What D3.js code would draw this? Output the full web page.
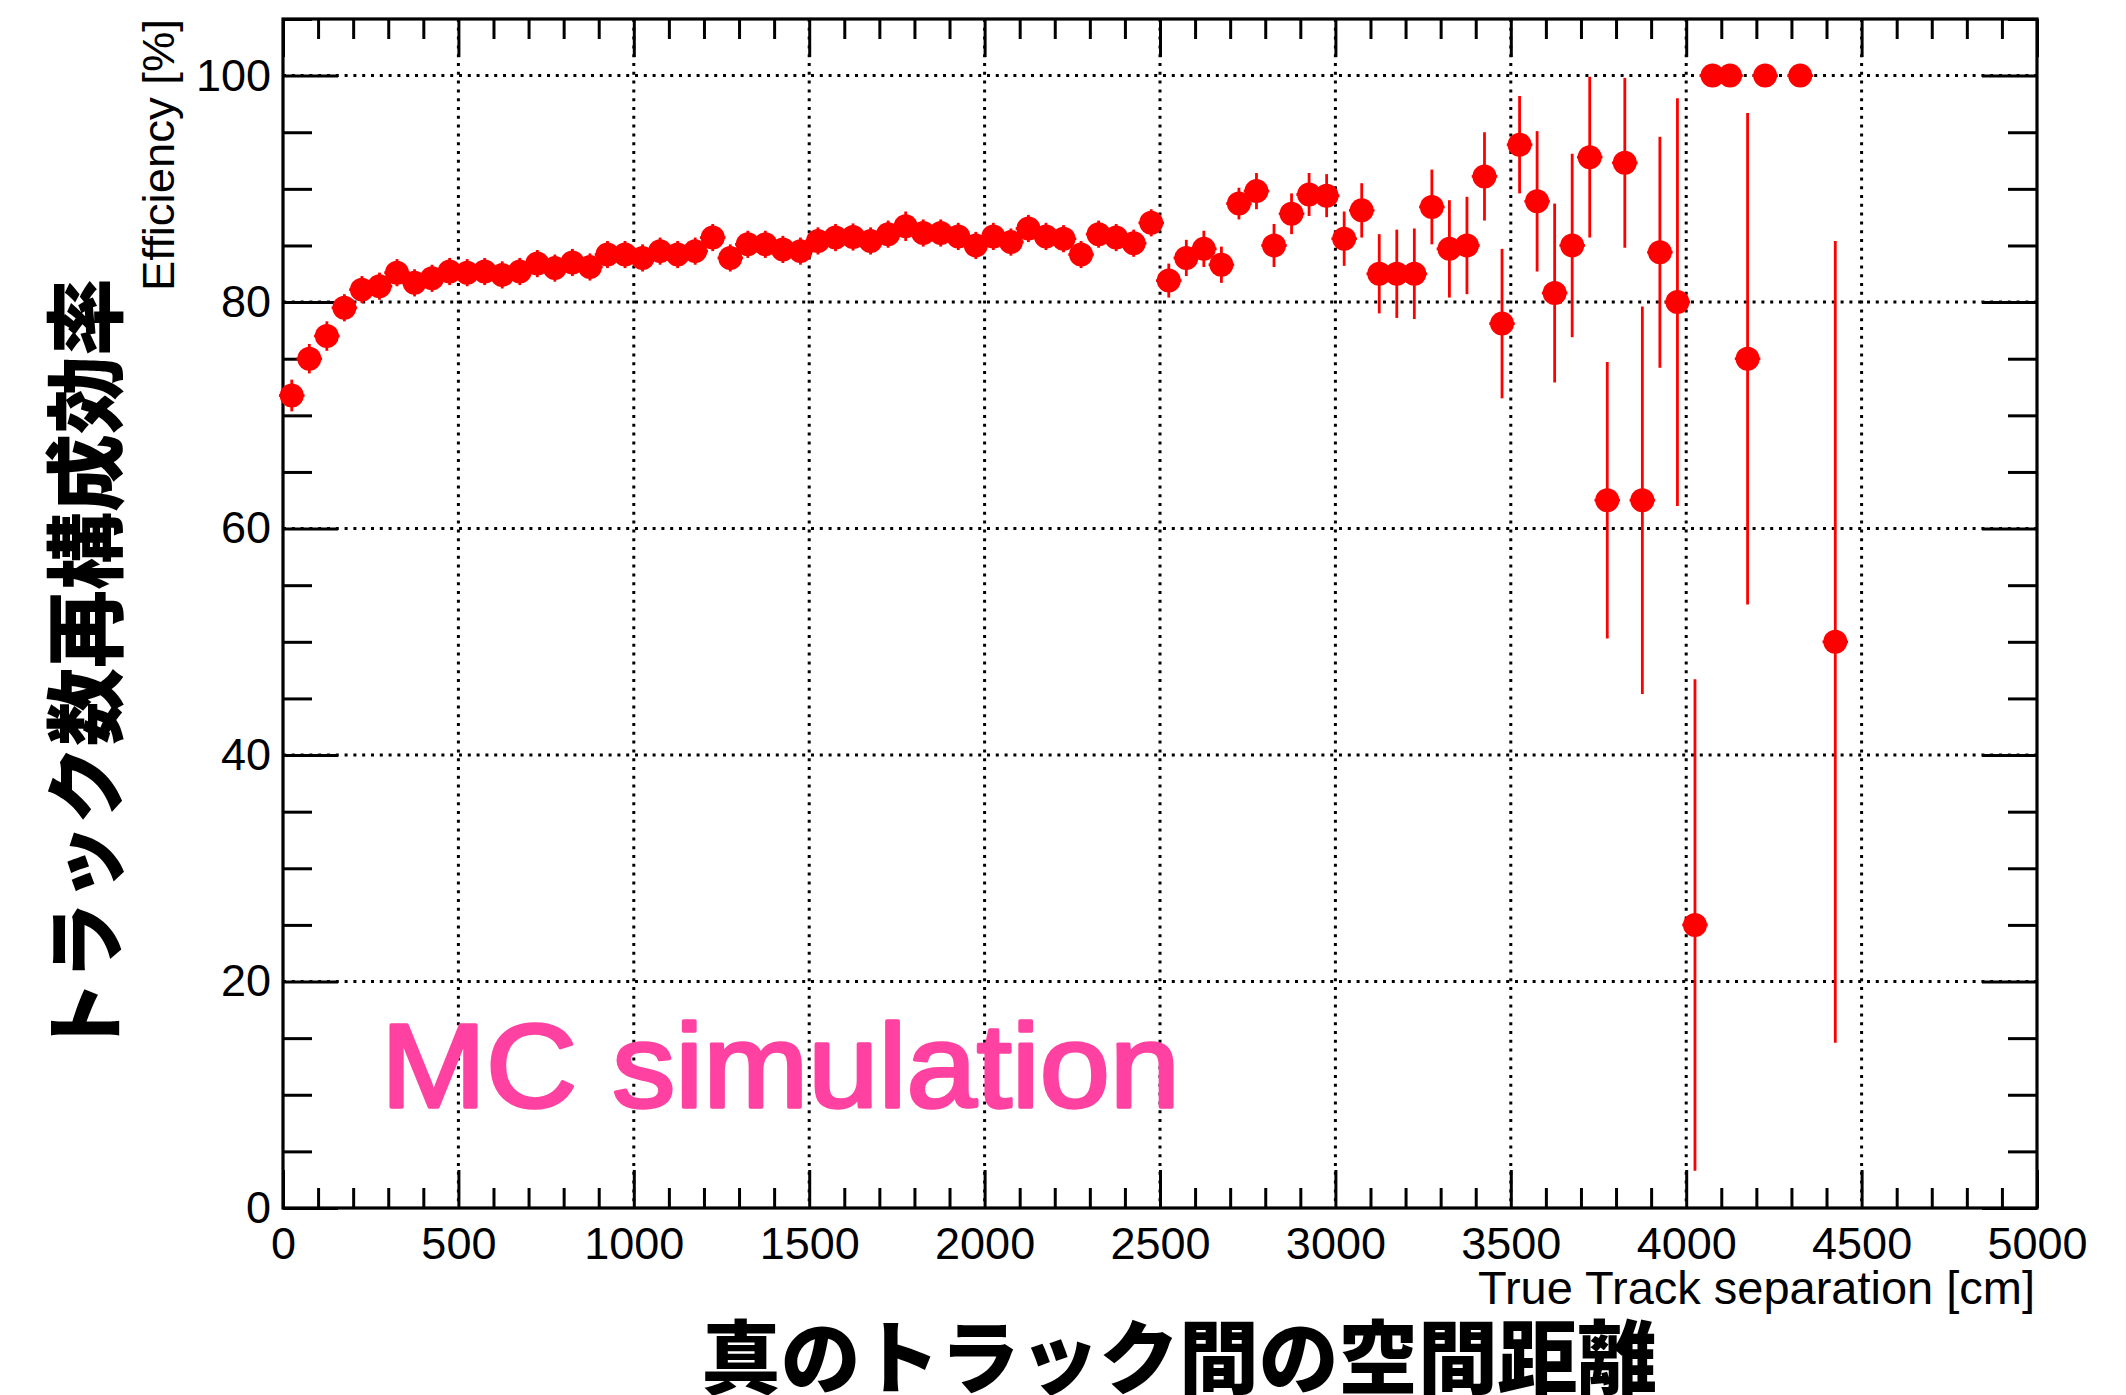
<!DOCTYPE html>
<html>
<head>
<meta charset="utf-8">
<script src="https://cdn.jsdelivr.net/npm/d3@7"></script>
<style>
  html, body { margin: 0; padding: 0; background: #fff; }
  svg { display: block; }
</style>
</head>
<body>
<svg id="chart" width="2126" height="1395"></svg>
<script>
// Bin centres of the true track separation histogram [cm]
const separation = [
  25, 75, 125, 175, 225, 275, 325, 375, 425, 475,
  525, 575, 625, 675, 725, 775, 825, 875, 925, 975,
  1025, 1075, 1125, 1175, 1225, 1275, 1325, 1375, 1425, 1475,
  1525, 1575, 1625, 1675, 1725, 1775, 1825, 1875, 1925, 1975,
  2025, 2075, 2125, 2175, 2225, 2275, 2325, 2375, 2425, 2475,
  2525, 2575, 2625, 2675, 2725, 2775, 2825, 2875, 2925, 2975,
  3025, 3075, 3125, 3175, 3225, 3275, 3325, 3375, 3425, 3475,
  3525, 3575, 3625, 3675, 3725, 3775, 3825, 3875, 3925, 3975,
  4025, 4075, 4125, 4175, 4225, 4325, 4425
];

// Reconstruction efficiency in each bin [%]
const efficiency = [
  71.75, 75.0, 77.0, 79.5, 81.1, 81.4, 82.6, 81.7, 82.1, 82.7,
  82.6, 82.7, 82.4, 82.7, 83.4, 83.0, 83.5, 83.1, 84.2, 84.2,
  83.9, 84.5, 84.2, 84.5, 85.7, 83.9, 85.1, 85.1, 84.65, 84.5,
  85.4, 85.7, 85.75, 85.4, 86.0, 86.7, 86.1, 86.1, 85.8, 85.0,
  85.8, 85.3, 86.5, 85.8, 85.6, 84.2, 86.0, 85.7, 85.2, 87.0,
  81.9, 83.9, 84.7, 83.3, 88.7, 89.8, 85.0, 87.8, 89.5, 89.4,
  85.6, 88.1, 82.5, 82.5, 82.5, 88.4, 84.7, 85.0, 91.1, 78.1,
  93.9, 88.9, 80.8, 85.0, 92.8, 62.5, 92.3, 62.5, 84.4, 80.0,
  25.0, 100, 100, 75.0, 100, 100, 50.0
];

// Statistical uncertainty on the efficiency [%]
const efficiencyErr = [
  1.4, 1.3, 1.3, 1.2, 1.2, 1.2, 1.2, 1.2, 1.2, 1.2,
  1.2, 1.2, 1.2, 1.2, 1.2, 1.2, 1.2, 1.2, 1.2, 1.2,
  1.2, 1.2, 1.2, 1.2, 1.2, 1.2, 1.2, 1.2, 1.2, 1.2,
  1.2, 1.2, 1.2, 1.2, 1.2, 1.3, 1.2, 1.2, 1.2, 1.2,
  1.2, 1.2, 1.2, 1.2, 1.2, 1.2, 1.2, 1.2, 1.2, 1.2,
  1.5, 1.6, 1.6, 1.6, 1.4, 1.6, 1.9, 1.8, 1.9, 1.9,
  2.4, 2.4, 3.5, 3.9, 4.0, 3.3, 4.3, 4.3, 3.9, 6.6,
  4.3, 6.2, 7.9, 8.1, 7.1, 12.2, 7.5, 17.1, 10.2, 18.0,
  21.7, 0, 0, 21.7, 0, 0, 35.4
];

const binHalfWidth = 25;

// Axis ticks
const xMajorTicks = [0, 500, 1000, 1500, 2000, 2500, 3000, 3500, 4000, 4500, 5000];
const yMajorTicks = [0, 20, 40, 60, 80, 100];

const xTitle = "True Track separation [cm]";
const yTitle = "Efficiency [%]";
const yTitleJa = "トラック数再構成効率";
const xTitleJa = "真のトラック間の空間距離";
const stamp = "MC simulation";

const frame = { left: 283, right: 2037, top: 19, bottom: 1208 };

const svg = d3.select("#chart");
svg.append("rect").attr("width", 2126).attr("height", 1395).attr("fill", "#fff");

const x = d3.scaleLinear().domain([0, 5000]).range([frame.left, frame.right]);
const y = d3.scaleLinear().domain([0, 105]).range([frame.bottom, frame.top]);

const latin = "'Liberation Sans', Arial, Helvetica, sans-serif";
const cjk = "'Noto Sans CJK JP', 'Noto Sans CJK SC', sans-serif";

// Dotted grid at the major ticks
const grid = svg.append("g")
  .attr("stroke", "#000")
  .attr("stroke-width", 3)
  .attr("stroke-dasharray", "3 5.8");
grid.selectAll("line.gx")
  .data(xMajorTicks.filter(d => d > 0 && d < 5000))
  .join("line")
  .attr("x1", d => x(d)).attr("x2", d => x(d))
  .attr("y1", frame.top).attr("y2", frame.bottom);
grid.selectAll("line.gy")
  .data(yMajorTicks.filter(d => d > 0))
  .join("line")
  .attr("x1", frame.left).attr("x2", frame.right)
  .attr("y1", d => y(d)).attr("y2", d => y(d));

// Axes with inward ticks on all four sides
const xMinor = d3.range(0, 5001, 100).filter(d => d % 500 !== 0);
const yMinor = d3.range(0, 106, 5).filter(d => d % 20 !== 0);

function styleAxis(g) {
  g.select(".domain").remove();
  g.selectAll(".tick line").attr("stroke", "#000").attr("stroke-width", 3);
  g.selectAll(".tick text")
    .attr("fill", "#000")
    .attr("font-family", latin)
    .attr("font-size", 45);
}

svg.append("g").attr("transform", `translate(0,${frame.bottom})`)
  .call(d3.axisBottom(x).tickValues(xMajorTicks).tickSizeInner(-38).tickSizeOuter(0)
    .tickPadding(19).tickFormat(d3.format("d")))
  .call(styleAxis);
svg.append("g").attr("transform", `translate(0,${frame.bottom})`)
  .call(d3.axisBottom(x).tickValues(xMinor).tickSizeInner(-20).tickSizeOuter(0).tickFormat(""))
  .call(styleAxis);
svg.append("g").attr("transform", `translate(0,${frame.top})`)
  .call(d3.axisTop(x).tickValues(xMajorTicks).tickSizeInner(-38).tickSizeOuter(0).tickFormat(""))
  .call(styleAxis);
svg.append("g").attr("transform", `translate(0,${frame.top})`)
  .call(d3.axisTop(x).tickValues(xMinor).tickSizeInner(-20).tickSizeOuter(0).tickFormat(""))
  .call(styleAxis);

svg.append("g").attr("transform", `translate(${frame.left},0)`)
  .call(d3.axisLeft(y).tickValues(yMajorTicks).tickSizeInner(-55).tickSizeOuter(0)
    .tickPadding(12).tickFormat(d3.format("d")))
  .call(styleAxis);
svg.append("g").attr("transform", `translate(${frame.left},0)`)
  .call(d3.axisLeft(y).tickValues(yMinor).tickSizeInner(-29).tickSizeOuter(0).tickFormat(""))
  .call(styleAxis);
svg.append("g").attr("transform", `translate(${frame.right},0)`)
  .call(d3.axisRight(y).tickValues(yMajorTicks).tickSizeInner(-55).tickSizeOuter(0).tickFormat(""))
  .call(styleAxis);
svg.append("g").attr("transform", `translate(${frame.right},0)`)
  .call(d3.axisRight(y).tickValues(yMinor).tickSizeInner(-29).tickSizeOuter(0).tickFormat(""))
  .call(styleAxis);

// Frame
svg.append("rect")
  .attr("x", frame.left).attr("y", frame.top)
  .attr("width", frame.right - frame.left).attr("height", frame.bottom - frame.top)
  .attr("fill", "none").attr("stroke", "#000").attr("stroke-width", 3.2);

// Efficiency points with error bars
const points = separation.map((s, i) => ({ s, e: efficiency[i], err: efficiencyErr[i] }));
const marks = svg.append("g");
marks.selectAll("line.ey")
  .data(points)
  .join("line")
  .attr("x1", d => x(d.s)).attr("x2", d => x(d.s))
  .attr("y1", d => y(Math.min(100, d.e + d.err))).attr("y2", d => y(Math.max(0, d.e - d.err)))
  .attr("stroke", "#ff0000").attr("stroke-width", 2.8);
marks.selectAll("line.ex")
  .data(points)
  .join("line")
  .attr("x1", d => x(d.s - binHalfWidth) - 4).attr("x2", d => x(d.s + binHalfWidth) + 4)
  .attr("y1", d => y(d.e)).attr("y2", d => y(d.e))
  .attr("stroke", "#ff0000").attr("stroke-width", 2.8);
marks.selectAll("circle")
  .data(points)
  .join("circle")
  .attr("cx", d => x(d.s)).attr("cy", d => y(d.e))
  .attr("r", 12)
  .attr("fill", "#ff0000");

// Axis titles
svg.append("text")
  .attr("x", frame.right - 2).attr("y", 1304)
  .attr("text-anchor", "end")
  .attr("font-family", latin).attr("font-size", 46)
  .attr("textLength", 557).attr("lengthAdjust", "spacingAndGlyphs")
  .attr("fill", "#000")
  .text(xTitle);

svg.append("text")
  .attr("transform", `translate(174,${frame.top}) rotate(-90)`)
  .attr("text-anchor", "end")
  .attr("font-family", latin).attr("font-size", 45)
  .attr("textLength", 272).attr("lengthAdjust", "spacingAndGlyphs")
  .attr("fill", "#000")
  .text(yTitle);

svg.append("text")
  .attr("transform", "translate(80,668) rotate(-90)")
  .attr("text-anchor", "middle")
  .attr("dominant-baseline", "central")
  .attr("font-family", cjk).attr("font-size", 80).attr("font-weight", 900)
  .attr("textLength", 780).attr("lengthAdjust", "spacingAndGlyphs")
  .attr("fill", "#000")
  .text(yTitleJa);

svg.append("text")
  .attr("x", 1179).attr("y", 1387)
  .attr("text-anchor", "middle")
  .attr("font-family", cjk).attr("font-size", 80).attr("font-weight", 900)
  .attr("textLength", 956).attr("lengthAdjust", "spacingAndGlyphs")
  .attr("fill", "#000")
  .text(xTitleJa);

// Simulation stamp
svg.append("text")
  .attr("x", 381).attr("y", 1107)
  .attr("font-family", latin).attr("font-size", 119)
  .attr("textLength", 799).attr("lengthAdjust", "spacingAndGlyphs")
  .attr("fill", "#ff42a1")
  .attr("stroke", "#ff42a1").attr("stroke-width", 3.5).attr("stroke-linejoin", "round")
  .text(stamp);
</script>
</body>
</html>
